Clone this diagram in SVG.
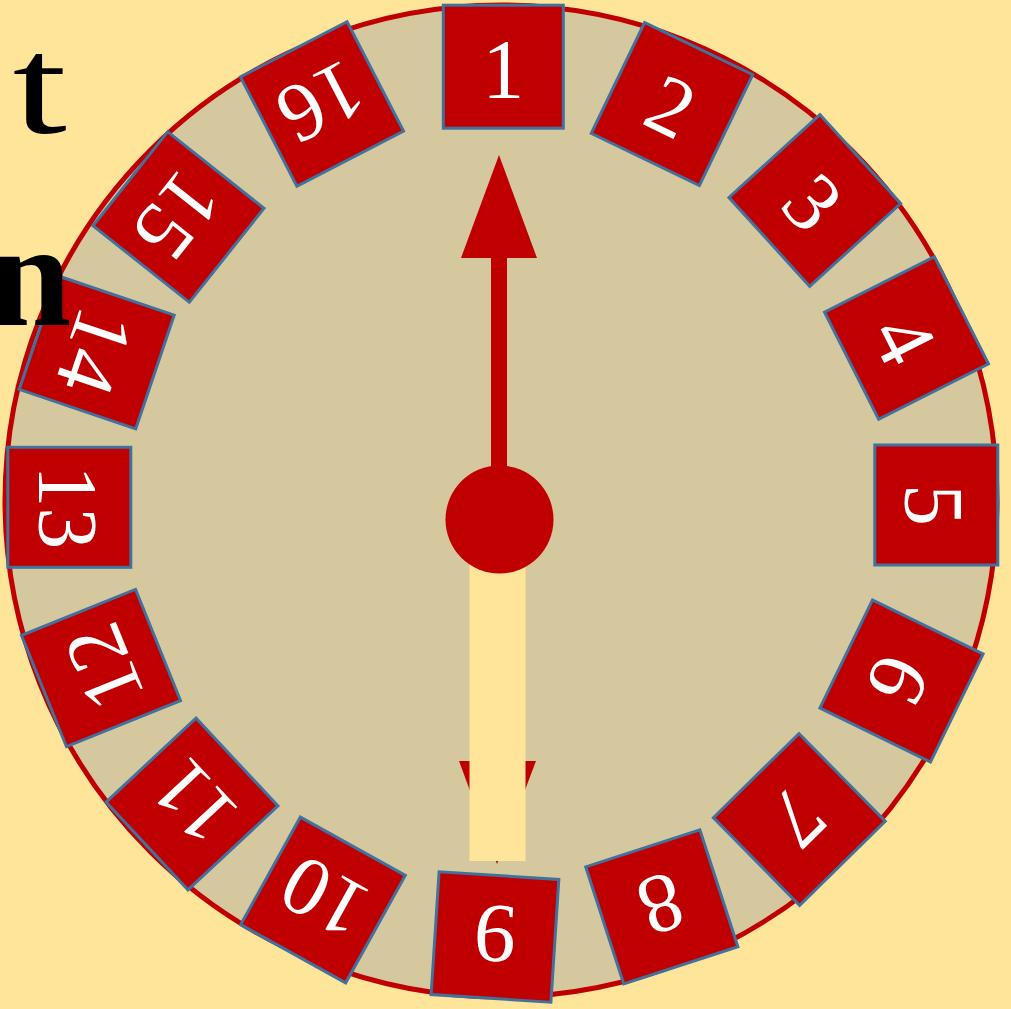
<svg xmlns="http://www.w3.org/2000/svg" width="1011" height="1009" viewBox="0 0 1011 1009">
<style>
.box rect{fill:#C00000;stroke:#41719C;stroke-width:3}
.box text{font-family:"Liberation Serif","Times New Roman",serif;font-size:84px;fill:#FFFFFF;text-anchor:middle}
.red{fill:#C00000}
.title{font-family:"Liberation Serif","Times New Roman",serif;fill:#000000}
</style>
<rect x="0" y="0" width="1011" height="1009" fill="#FFE599"/>
<g id="dial">
<circle cx="501" cy="501" r="496" fill="#D6C89E" stroke="#C00000" stroke-width="5"/>
</g>
<g id="b1" class="box" transform="translate(503.3,66.7) rotate(0)"><rect x="-60" y="-61.5" width="120" height="123"/><text x="0" y="31">1</text></g>
<g id="b2" class="box" transform="translate(672,104) rotate(25.7)"><rect x="-60" y="-61.5" width="120" height="123"/><text x="0" y="31">2</text></g>
<g id="b3" class="box" transform="translate(814.8,200.5) rotate(47.7)"><rect x="-60" y="-61.5" width="120" height="123"/><text x="0" y="31">3</text></g>
<g id="b4" class="box" transform="translate(906.5,338) rotate(63.2)"><rect x="-60" y="-61.5" width="120" height="123"/><text x="0" y="31">4</text></g>
<g id="b5" class="box" transform="translate(936.3,505) rotate(90)"><rect x="-60" y="-61.5" width="120" height="123"/><text x="0" y="31">5</text></g>
<g id="b6" class="box" transform="translate(901.5,681) rotate(116)"><rect x="-60" y="-61.5" width="120" height="123"/><text x="0" y="31">6</text></g>
<g id="b7" class="box" transform="translate(799.3,819.5) rotate(135.5)"><rect x="-60" y="-61.5" width="120" height="123"/><text x="0" y="31">7</text></g>
<g id="b8" class="box" transform="translate(661.8,906.8) rotate(162)"><rect x="-60" y="-61.5" width="120" height="123"/><text x="0" y="31">8</text></g>
<g id="b9" class="box" transform="translate(495,937) rotate(183.7)"><rect x="-60" y="-61.5" width="120" height="123"/><text x="0" y="31">9</text></g>
<g id="b10" class="box" transform="translate(323,900) rotate(209)"><rect x="-60" y="-61.5" width="120" height="123"/><text x="0" y="31">10</text></g>
<g id="b11" class="box" transform="translate(192,804) rotate(227)"><rect x="-60" y="-61.5" width="120" height="123"/><text x="0" y="31">11</text></g>
<g id="b12" class="box" transform="translate(101,668) rotate(248)"><rect x="-60" y="-61.5" width="120" height="123"/><text x="0" y="31">12</text></g>
<g id="b13" class="box" transform="translate(69.3,507.3) rotate(90)"><rect x="-60" y="-61.5" width="120" height="123"/><text x="0" y="30">13</text></g>
<g id="b14" class="box" transform="translate(96.7,352.3) rotate(108.7)"><rect x="-60" y="-61.5" width="120" height="123"/><text x="0" y="30">14</text></g>
<g id="b15" class="box" transform="translate(178.5,217) rotate(128.5)"><rect x="-60" y="-61.5" width="120" height="123"/><text x="0" y="30">15</text></g>
<g id="b16" class="box" transform="translate(322,104) rotate(152.7)"><rect x="-60" y="-61.5" width="120" height="123"/><text x="0" y="30">16</text></g>
<g id="connectors">
<polygon class="red" points="459,761 536,761 497,864"/>
<rect x="469.5" y="540" width="56" height="321" fill="#FFE599"/>
<line x1="499" y1="480" x2="499" y2="250" stroke="#C00000" stroke-width="16"/>
<polygon class="red" points="461,258 537,258 499,155"/>
</g>
<g id="hub">
<circle cx="499.5" cy="519.5" r="54" fill="#C00000"/>
</g>
<text class="title" font-size="140" transform="translate(12.6,133) scale(1.4,1)">t</text>
<text class="title" font-size="148" font-weight="bold" x="-11" y="325">n</text>
</svg>
